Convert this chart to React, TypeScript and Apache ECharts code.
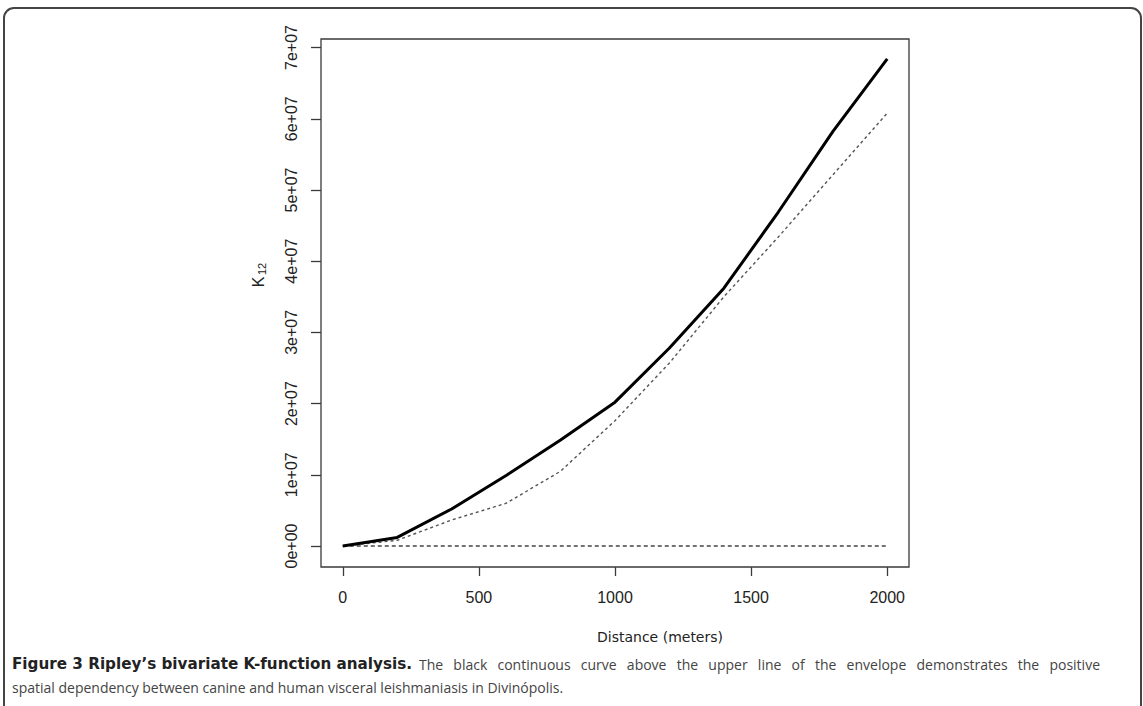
import React, { useEffect, useRef } from "react";
import * as echarts from "echarts";

const distances = [0, 200, 400, 600, 800, 1000, 1200, 1400, 1600, 1800, 2000];
const observedK12 = [0, 1.2e6, 5.2e6, 9.9e6, 1.49e7, 2.02e7, 2.78e7, 3.62e7, 4.69e7, 5.82e7, 6.84e7];
const upperEnvelope = [0, 0.8e6, 3.65e6, 6.0e6, 1.05e7, 1.76e7, 2.57e7, 3.5e7, 4.34e7, 5.21e7, 6.08e7];
const lowerEnvelope = [0, 0, 0, 0, 0, 0, 0, 0, 0, 0, 0];
const xTicks = [0, 500, 1000, 1500, 2000];
const yTicks = [0, 1e7, 2e7, 3e7, 4e7, 5e7, 6e7, 7e7];
const yTickLabels = ["0e+00", "1e+07", "2e+07", "3e+07", "4e+07", "5e+07", "6e+07", "7e+07"];
const xTitle = "Distance (meters)";
const captionBold = "Figure 3 Ripley\u2019s bivariate K-function analysis.";
const captionLine1 = "The black continuous curve above the upper line of the envelope demonstrates the positive";
const captionLine2 = "spatial dependency between canine and human visceral leishmaniasis in Divin\u00f3polis.";

const pairs = (ys: number[]) => distances.map((d, i) => [d, ys[i]]);

function measure(text: string, font: string): number {
  const ctx = document.createElement("canvas").getContext("2d")!;
  ctx.font = font;
  return ctx.measureText(text).width;
}

// place words so that they fill [x0, x1] (justified text)
function justifiedWords(text: string, font: string, x0: number, x1: number) {
  const words = text.split(" ");
  const widths = words.map((w) => measure(w, font));
  const total = widths.reduce((a, b) => a + b, 0);
  const gap = words.length > 1 ? (x1 - x0 - total) / (words.length - 1) : 0;
  const out: { word: string; x: number }[] = [];
  let x = x0;
  words.forEach((w, i) => {
    out.push({ word: w, x });
    x += widths[i] + gap;
  });
  return out;
}

export default function App() {
  const ref = useRef<HTMLDivElement>(null);
  useEffect(() => {
    document.body.style.margin = "0";
    const chart = echarts.init(ref.current!, null, { renderer: "svg" });
    const axisColor = "#3a3a3a";

    const boldFamily = "DejaVu Sans";
    const boldSize = 15.2;
    const boldWidth = measure(captionBold, `bold ${boldSize}px '${boldFamily}'`);
    const regFont = "14px 'Open Sans'";
    const regStart = 12 + boldWidth + 7;
    const regWords = justifiedWords(captionLine1, regFont, regStart, 1100);
    const captionGraphics: any[] = [
      {
        type: "text",
        x: 12,
        y: 664,
        style: {
          text: captionBold,
          fontSize: boldSize,
          fontWeight: "bold",
          fontFamily: boldFamily,
          fill: "#222",
          textVerticalAlign: "middle",
        },
      },
      ...regWords.map((w) => ({
        type: "text",
        x: w.x,
        y: 664,
        style: {
          text: w.word,
          fontSize: 14,
          fontFamily: "Open Sans",
          fill: "#444",
          textVerticalAlign: "middle",
        },
      })),
      {
        type: "text",
        x: 12,
        y: 687,
        style: {
          text: captionLine2,
          fontSize: 14,
          fontFamily: "Open Sans",
          fill: "#444",
          textVerticalAlign: "middle",
        },
      },
    ];

    chart.setOption({
      animation: false,
      backgroundColor: "#ffffff",
      grid: {
        left: 321,
        top: 39,
        width: 588,
        height: 528,
        show: true,
        borderColor: axisColor,
        borderWidth: 1.3,
        containLabel: false,
      },
      xAxis: {
        type: "value",
        min: -80,
        max: 2080,
        axisLine: { show: false, onZero: false },
        splitLine: { show: false },
        axisTick: {
          show: true,
          customValues: xTicks,
          length: 9,
          inside: false,
          lineStyle: { color: axisColor, width: 1.3 },
        },
        axisLabel: {
          customValues: xTicks,
          margin: 22,
          fontSize: 16,
          fontFamily: "Liberation Sans",
          color: "#222",
          formatter: (v: number) => String(v),
        },
      },
      yAxis: {
        type: "value",
        min: -2.95e6,
        max: 7.12e7,
        axisLine: { show: false, onZero: false },
        splitLine: { show: false },
        axisTick: {
          show: true,
          customValues: yTicks,
          length: 10,
          inside: false,
          lineStyle: { color: axisColor, width: 1.3 },
        },
        axisLabel: {
          customValues: yTicks,
          rotate: 90,
          margin: 22,
          fontSize: 16,
          fontFamily: "Liberation Sans",
          color: "#222",
          formatter: (v: number) => {
            const i = yTicks.indexOf(v);
            return i >= 0 ? yTickLabels[i] : "";
          },
        },
      },
      series: [
        {
          type: "line",
          name: "lower",
          data: pairs(lowerEnvelope),
          symbol: "none",
          lineStyle: { color: "#444", width: 1.4, type: [4, 3] },
          z: 2,
        },
        {
          type: "line",
          name: "upper",
          data: pairs(upperEnvelope),
          symbol: "none",
          lineStyle: { color: "#555", width: 1.4, type: [3, 3] },
          z: 3,
        },
        {
          type: "line",
          name: "observed",
          data: pairs(observedK12),
          symbol: "none",
          lineStyle: { color: "#000", width: 3 },
          z: 4,
        },
      ],
      graphic: [
        {
          type: "rect",
          shape: { x: 4, y: 8, width: 1137, height: 740, r: 10 },
          style: { fill: "none", stroke: "#444", lineWidth: 2 },
          z: 0,
        },
        {
          type: "group",
          x: 258,
          y: 278,
          rotation: Math.PI / 2,
          children: [
            {
              type: "text",
              x: -4,
              y: 0,
              style: {
                text: "K",
                fontSize: 16,
                fontFamily: "Liberation Sans",
                fill: "#222",
                textAlign: "center",
                textVerticalAlign: "middle",
              },
            },
            {
              type: "text",
              x: 3,
              y: 4,
              style: {
                text: "12",
                fontSize: 11,
                fontFamily: "Liberation Sans",
                fill: "#222",
                textAlign: "left",
                textVerticalAlign: "middle",
              },
            },
          ],
        },
        {
          type: "text",
          x: 660,
          y: 637,
          style: {
            text: xTitle,
            fontSize: 14,
            fontFamily: "DejaVu Sans",
            fill: "#222",
            textAlign: "center",
            textVerticalAlign: "middle",
          },
        },
        ...captionGraphics,
      ],
    });
    return () => chart.dispose();
  }, []);
  return <div ref={ref} style={{ width: 1143, height: 706 }} />;
}
